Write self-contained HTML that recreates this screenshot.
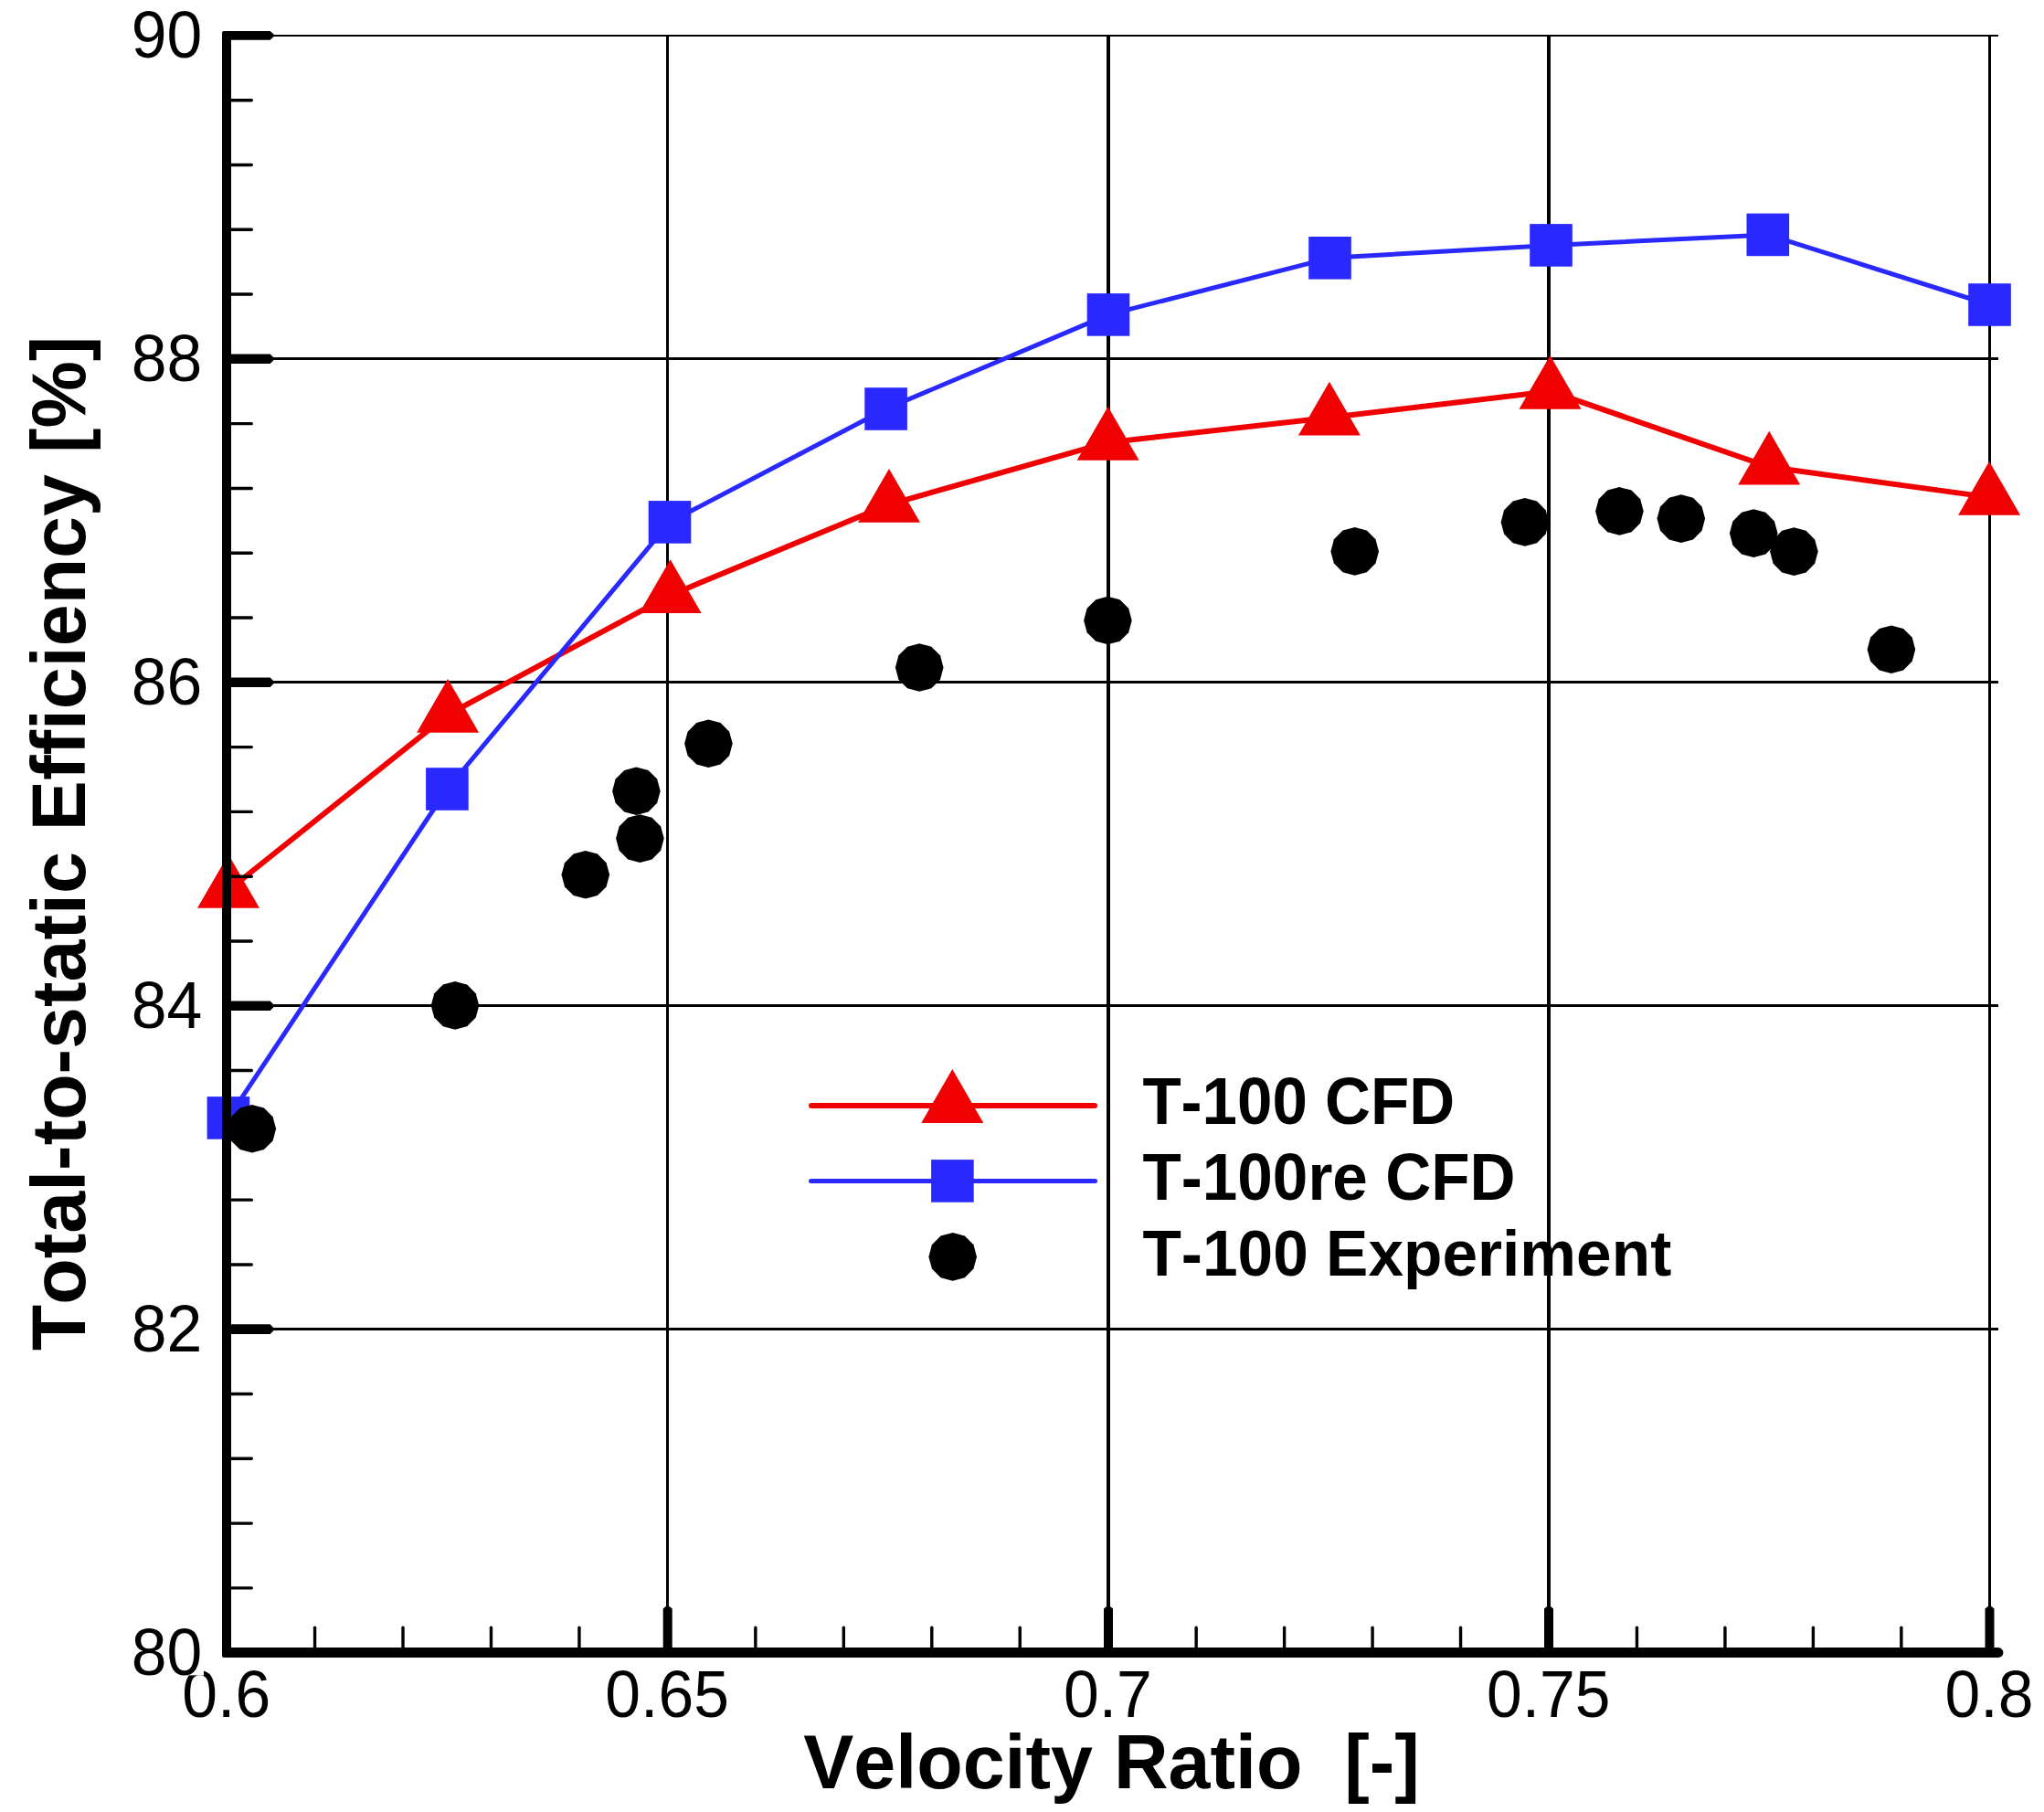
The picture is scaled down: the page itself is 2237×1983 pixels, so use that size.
<!DOCTYPE html>
<html lang="en"><head><meta charset="utf-8"><title>Total-to-static Efficiency vs Velocity Ratio</title>
<style>html,body{margin:0;padding:0;background:#fff}svg{display:block}text{font-family:"Liberation Sans",Arial,Helvetica,sans-serif;fill:#000;font-kerning:none;font-variant-ligatures:none}.b{font-weight:bold}</style>
</head><body>
<svg width="2237" height="1983" viewBox="0 0 2237 1983">
<rect width="2237" height="1983" fill="#fff"/>
<g id="grid" stroke="#000" fill="none" shape-rendering="crispEdges">
<rect x="728.95" y="38" width="3.5" height="1770.7" fill="#000" stroke="none"/>
<rect x="1211" y="38" width="4" height="1770.7" fill="#000" stroke="none"/>
<rect x="1693" y="38" width="4" height="1770.7" fill="#000" stroke="none"/>
<rect x="2176" y="38" width="3" height="1770.7" fill="#000" stroke="none"/>
<line x1="248" y1="38.9" x2="2187" y2="38.9" stroke-width="2"/>
<line x1="248" y1="392.86" x2="2187" y2="392.86" stroke-width="3.0"/>
<line x1="248" y1="746.82" x2="2187" y2="746.82" stroke-width="3.0"/>
<line x1="248" y1="1100.78" x2="2187" y2="1100.78" stroke-width="3.0"/>
<line x1="248" y1="1454.74" x2="2187" y2="1454.74" stroke-width="3.0"/>
</g>
<g id="series-red">
<polyline fill="none" stroke="#f00000" stroke-width="6.0" stroke-linejoin="round" points="250,974.2 490.1,782.1 733.6,651.4 973,552.1 1212.6,484.2 1454.9,457 1696.5,428.2 1936.2,511 2177.1,544.1"/>
<polygon fill="#f00000" points="250,935 284,993.8 216,993.8"/>
<polygon fill="#f00000" points="490.1,742.9 524.1,801.7 456.1,801.7"/>
<polygon fill="#f00000" points="733.6,612.2 767.6,671 699.6,671"/>
<polygon fill="#f00000" points="973,512.9 1007,571.7 939,571.7"/>
<polygon fill="#f00000" points="1212.6,445 1246.6,503.8 1178.6,503.8"/>
<polygon fill="#f00000" points="1454.9,417.8 1488.9,476.6 1420.9,476.6"/>
<polygon fill="#f00000" points="1696.5,389 1730.5,447.8 1662.5,447.8"/>
<polygon fill="#f00000" points="1936.2,471.8 1970.2,530.6 1902.2,530.6"/>
<polygon fill="#f00000" points="2177.1,504.9 2211.1,563.7 2143.1,563.7"/>
</g>
<g id="series-blue">
<polyline fill="none" stroke="#2828ff" stroke-width="5.0" stroke-linejoin="round" points="249.9,1223.4 489.4,863.5 733,571.4 969.6,447.5 1213,344.4 1455.5,282.3 1697.5,268.4 1934.8,256.9 2177.5,333.5"/>
<rect fill="#2828ff" x="226.6" y="1200.1" width="46.6" height="46.6"/>
<rect fill="#2828ff" x="466.1" y="840.2" width="46.6" height="46.6"/>
<rect fill="#2828ff" x="709.7" y="548.1" width="46.6" height="46.6"/>
<rect fill="#2828ff" x="946.3" y="424.2" width="46.6" height="46.6"/>
<rect fill="#2828ff" x="1189.7" y="321.1" width="46.6" height="46.6"/>
<rect fill="#2828ff" x="1432.2" y="259" width="46.6" height="46.6"/>
<rect fill="#2828ff" x="1674.2" y="245.1" width="46.6" height="46.6"/>
<rect fill="#2828ff" x="1911.5" y="233.6" width="46.6" height="46.6"/>
<rect fill="#2828ff" x="2154.2" y="310.2" width="46.6" height="46.6"/>
</g>
<g id="series-exp" fill="#000">
<polygon points="275.8,1209 288.95,1212.52 298.58,1222.15 302.1,1235.3 298.58,1248.45 288.95,1258.08 275.8,1261.6 262.65,1258.08 253.02,1248.45 249.5,1235.3 253.02,1222.15 262.65,1212.52"/>
<polygon points="498,1074.1 511.15,1077.62 520.78,1087.25 524.3,1100.4 520.78,1113.55 511.15,1123.18 498,1126.7 484.85,1123.18 475.22,1113.55 471.7,1100.4 475.22,1087.25 484.85,1077.62"/>
<polygon points="640.8,931 653.95,934.52 663.58,944.15 667.1,957.3 663.58,970.45 653.95,980.08 640.8,983.6 627.65,980.08 618.02,970.45 614.5,957.3 618.02,944.15 627.65,934.52"/>
<polygon points="700.4,891.3 713.55,894.82 723.18,904.45 726.7,917.6 723.18,930.75 713.55,940.38 700.4,943.9 687.25,940.38 677.62,930.75 674.1,917.6 677.62,904.45 687.25,894.82"/>
<polygon points="696.4,839.4 709.55,842.92 719.18,852.55 722.7,865.7 719.18,878.85 709.55,888.48 696.4,892 683.25,888.48 673.62,878.85 670.1,865.7 673.62,852.55 683.25,842.92"/>
<polygon points="775.4,787.5 788.55,791.02 798.18,800.65 801.7,813.8 798.18,826.95 788.55,836.58 775.4,840.1 762.25,836.58 752.62,826.95 749.1,813.8 752.62,800.65 762.25,791.02"/>
<polygon points="1006.2,704.2 1019.35,707.72 1028.98,717.35 1032.5,730.5 1028.98,743.65 1019.35,753.28 1006.2,756.8 993.05,753.28 983.42,743.65 979.9,730.5 983.42,717.35 993.05,707.72"/>
<polygon points="1212.4,652.7 1225.55,656.22 1235.18,665.85 1238.7,679 1235.18,692.15 1225.55,701.78 1212.4,705.3 1199.25,701.78 1189.62,692.15 1186.1,679 1189.62,665.85 1199.25,656.22"/>
<polygon points="1482.7,577.1 1495.85,580.62 1505.48,590.25 1509,603.4 1505.48,616.55 1495.85,626.18 1482.7,629.7 1469.55,626.18 1459.92,616.55 1456.4,603.4 1459.92,590.25 1469.55,580.62"/>
<polygon points="1668.9,545.1 1682.05,548.62 1691.68,558.25 1695.2,571.4 1691.68,584.55 1682.05,594.18 1668.9,597.7 1655.75,594.18 1646.12,584.55 1642.6,571.4 1646.12,558.25 1655.75,548.62"/>
<polygon points="1772.4,533.1 1785.55,536.62 1795.18,546.25 1798.7,559.4 1795.18,572.55 1785.55,582.18 1772.4,585.7 1759.25,582.18 1749.62,572.55 1746.1,559.4 1749.62,546.25 1759.25,536.62"/>
<polygon points="1839.8,541.3 1852.95,544.82 1862.58,554.45 1866.1,567.6 1862.58,580.75 1852.95,590.38 1839.8,593.9 1826.65,590.38 1817.02,580.75 1813.5,567.6 1817.02,554.45 1826.65,544.82"/>
<polygon points="1919.2,557.3 1932.35,560.82 1941.98,570.45 1945.5,583.6 1941.98,596.75 1932.35,606.38 1919.2,609.9 1906.05,606.38 1896.42,596.75 1892.9,583.6 1896.42,570.45 1906.05,560.82"/>
<polygon points="1963.4,577.3 1976.55,580.82 1986.18,590.45 1989.7,603.6 1986.18,616.75 1976.55,626.38 1963.4,629.9 1950.25,626.38 1940.62,616.75 1937.1,603.6 1940.62,590.45 1950.25,580.82"/>
<polygon points="2069.9,684.4 2083.05,687.92 2092.68,697.55 2096.2,710.7 2092.68,723.85 2083.05,733.48 2069.9,737 2056.75,733.48 2047.12,723.85 2043.6,710.7 2047.12,697.55 2056.75,687.92"/>
</g>
<g id="axes" fill="#000" stroke="none">
<rect x="243" y="35.5" width="10" height="1776.5"/>
<path d="M243 1803.1 H2187 A5.4 5.4 0 0 1 2187 1813.9 H245 A2 2 0 0 1 243 1811.9 Z"/>
<polygon points="246,33.9 295.6,33.9 299.4,37.3 299.4,40.3 295.6,43.7 246,43.7"/>
<polygon points="246,387.46 295.6,387.46 299.4,391.26 299.4,394.26 295.6,398.06 246,398.06"/>
<polygon points="246,741.42 295.6,741.42 299.4,745.22 299.4,748.22 295.6,752.02 246,752.02"/>
<polygon points="246,1095.38 295.6,1095.38 299.4,1099.18 299.4,1102.18 295.6,1105.98 246,1105.98"/>
<polygon points="246,1449.34 295.6,1449.34 299.4,1453.14 299.4,1456.14 295.6,1459.94 246,1459.94"/>
<rect x="243" y="34" width="6" height="6" rx="2"/>
<polygon points="725.7,1806 725.7,1760.4 728.7,1757.9 732.7,1757.9 735.7,1760.4 735.7,1806"/>
<polygon points="1208,1806 1208,1760.4 1211,1757.9 1215,1757.9 1218,1760.4 1218,1806"/>
<polygon points="1690,1806 1690,1760.4 1693,1757.9 1697,1757.9 1700,1760.4 1700,1806"/>
<polygon points="2172.5,1806 2172.5,1760.4 2175.5,1757.9 2179.5,1757.9 2182.5,1760.4 2182.5,1806"/>
</g>
<g id="minor" stroke="#000" fill="none" stroke-linecap="round">
<line x1="250" y1="109.69" x2="275.3" y2="109.69" stroke-width="3.4"/>
<line x1="250" y1="180.48" x2="275.3" y2="180.48" stroke-width="3.4"/>
<line x1="250" y1="251.28" x2="275.3" y2="251.28" stroke-width="3.4"/>
<line x1="250" y1="322.07" x2="275.3" y2="322.07" stroke-width="3.4"/>
<line x1="250" y1="463.65" x2="275.3" y2="463.65" stroke-width="3.4"/>
<line x1="250" y1="534.44" x2="275.3" y2="534.44" stroke-width="3.4"/>
<line x1="250" y1="605.24" x2="275.3" y2="605.24" stroke-width="3.4"/>
<line x1="250" y1="676.03" x2="275.3" y2="676.03" stroke-width="3.4"/>
<line x1="250" y1="817.61" x2="275.3" y2="817.61" stroke-width="3.4"/>
<line x1="250" y1="888.4" x2="275.3" y2="888.4" stroke-width="3.4"/>
<line x1="250" y1="959.2" x2="275.3" y2="959.2" stroke-width="3.4"/>
<line x1="250" y1="1029.99" x2="275.3" y2="1029.99" stroke-width="3.4"/>
<line x1="250" y1="1171.57" x2="275.3" y2="1171.57" stroke-width="3.4"/>
<line x1="250" y1="1242.36" x2="275.3" y2="1242.36" stroke-width="3.4"/>
<line x1="250" y1="1313.16" x2="275.3" y2="1313.16" stroke-width="3.4"/>
<line x1="250" y1="1383.95" x2="275.3" y2="1383.95" stroke-width="3.4"/>
<line x1="250" y1="1525.53" x2="275.3" y2="1525.53" stroke-width="3.4"/>
<line x1="250" y1="1596.32" x2="275.3" y2="1596.32" stroke-width="3.4"/>
<line x1="250" y1="1667.12" x2="275.3" y2="1667.12" stroke-width="3.4"/>
<line x1="250" y1="1737.91" x2="275.3" y2="1737.91" stroke-width="3.4"/>
<line x1="344.56" y1="1806" x2="344.56" y2="1781.2" stroke-width="3.4"/>
<line x1="441.02" y1="1806" x2="441.02" y2="1781.2" stroke-width="3.4"/>
<line x1="537.48" y1="1806" x2="537.48" y2="1781.2" stroke-width="3.4"/>
<line x1="633.94" y1="1806" x2="633.94" y2="1781.2" stroke-width="3.4"/>
<line x1="826.86" y1="1806" x2="826.86" y2="1781.2" stroke-width="3.4"/>
<line x1="923.32" y1="1806" x2="923.32" y2="1781.2" stroke-width="3.4"/>
<line x1="1019.78" y1="1806" x2="1019.78" y2="1781.2" stroke-width="3.4"/>
<line x1="1116.24" y1="1806" x2="1116.24" y2="1781.2" stroke-width="3.4"/>
<line x1="1309.16" y1="1806" x2="1309.16" y2="1781.2" stroke-width="3.4"/>
<line x1="1405.62" y1="1806" x2="1405.62" y2="1781.2" stroke-width="3.4"/>
<line x1="1502.08" y1="1806" x2="1502.08" y2="1781.2" stroke-width="3.4"/>
<line x1="1598.54" y1="1806" x2="1598.54" y2="1781.2" stroke-width="3.4"/>
<line x1="1791.46" y1="1806" x2="1791.46" y2="1781.2" stroke-width="3.4"/>
<line x1="1887.92" y1="1806" x2="1887.92" y2="1781.2" stroke-width="3.4"/>
<line x1="1984.38" y1="1806" x2="1984.38" y2="1781.2" stroke-width="3.4"/>
<line x1="2080.84" y1="1806" x2="2080.84" y2="1781.2" stroke-width="3.4"/>
</g>
<g id="xlabels" font-size="69.7" text-anchor="middle">
<text transform="translate(247.8 1878.6) scale(1 1.045)">0.6</text>
<text transform="translate(730.1 1878.6) scale(1 1.045)">0.65</text>
<text transform="translate(1212.4 1878.6) scale(1 1.045)">0.7</text>
<text transform="translate(1694.7 1878.6) scale(1 1.045)">0.75</text>
<text transform="translate(2177 1878.6) scale(1 1.045)">0.8</text>
</g>
<rect x="140" y="1776" width="83" height="57.4" fill="#fff"/>
<g id="ylabels" font-size="69.7" text-anchor="end">
<text transform="translate(221.3 63.2) scale(1 1.045)">90</text>
<text transform="translate(221.3 417.16) scale(1 1.045)">88</text>
<text transform="translate(221.3 771.12) scale(1 1.045)">86</text>
<text transform="translate(221.3 1125.08) scale(1 1.045)">84</text>
<text transform="translate(221.3 1479.04) scale(1 1.045)">82</text>
<text transform="translate(221.3 1833) scale(1 1.045)">80</text>
</g>
<text class="b" font-size="82.6" transform="translate(1216.5 1957) scale(1 1.0)" text-anchor="middle" xml:space="preserve" style="white-space:pre">Velocity Ratio  [-]</text>
<text class="b" font-size="82.6" transform="translate(93 922.9) rotate(-90) scale(1 1.0)" text-anchor="middle">Total-to-static Efficiency [%]</text>
<g id="legend">
<line x1="888" y1="1210" x2="1198" y2="1210" stroke="#f00000" stroke-width="6" stroke-linecap="round"/>
<polygon fill="#f00000" points="1042.3,1170.1 1076.3,1228.9 1008.3,1228.9"/>
<line x1="887.5" y1="1292.4" x2="1198.5" y2="1292.4" stroke="#2828ff" stroke-width="5" stroke-linecap="round"/>
<rect fill="#2828ff" x="1019.1" y="1269.1" width="46.6" height="46.6"/>
<polygon fill="#000" points="1042.7,1349.1 1055.85,1352.62 1065.48,1362.25 1069,1375.4 1065.48,1388.55 1055.85,1398.18 1042.7,1401.7 1029.55,1398.18 1019.92,1388.55 1016.4,1375.4 1019.92,1362.25 1029.55,1352.62"/>
<g class="b" font-size="69.1">
<text font-size="69.1" transform="translate(1250.4 1229.8) scale(1 1.05)">T-100 CFD</text>
<text font-size="69.3" transform="translate(1250.4 1312.8) scale(1 1.045)">T-100re CFD</text>
<text font-size="69.45" transform="translate(1250.4 1395.9) scale(1 1.025)">T-100 Experiment</text>
</g></g>
</svg></body></html>
